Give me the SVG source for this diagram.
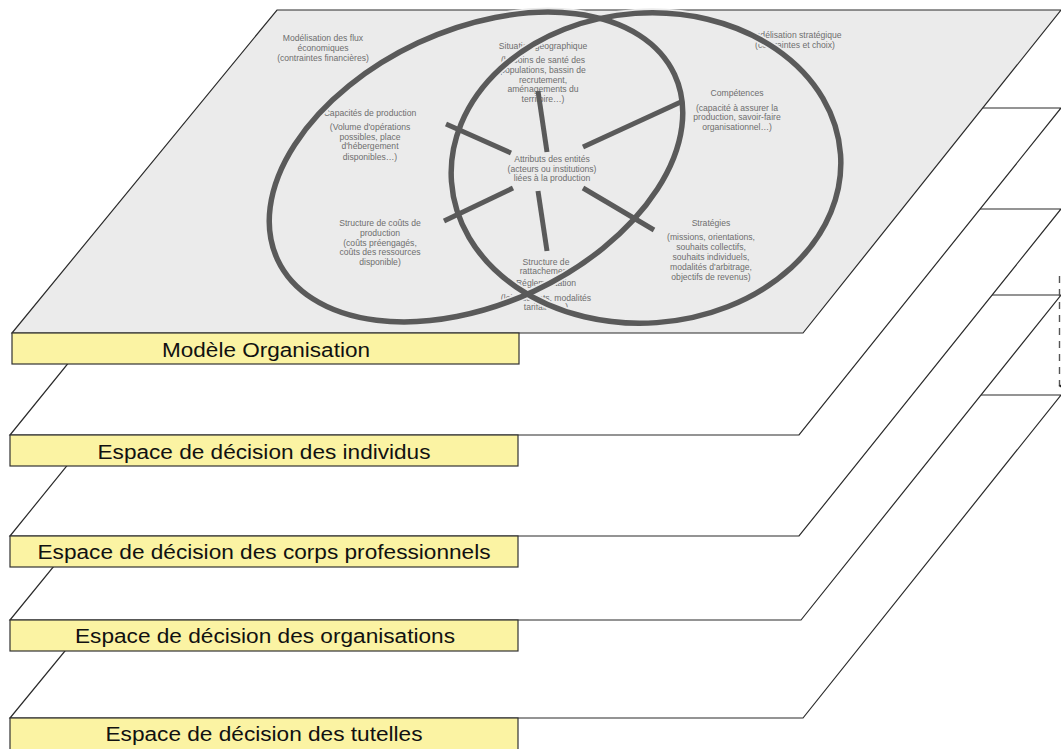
<svg xmlns="http://www.w3.org/2000/svg" width="1061" height="749" viewBox="0 0 1061 749">
<style>
.plane{stroke:#2b2b2b;stroke-width:1.2;stroke-linejoin:miter}
.top{fill:#ebebeb}
.low{fill:#ffffff}
.lbl{fill:#fbf3a3;stroke:#333;stroke-width:1.2}
.lt{font-family:"Liberation Sans",Arial,sans-serif;font-size:20px;fill:#111;text-anchor:middle}
.t{font-family:"Liberation Sans",Arial,sans-serif;font-size:8.6px;fill:#6e6e6e;text-anchor:middle}
.halo{fill:none;stroke:#ebebeb;stroke-width:9}
.ell{fill:none;stroke:#5a5a5a;stroke-width:5.5}
.spoke{stroke:#5a5a5a;stroke-width:5;fill:none}
.dash{stroke:#555;stroke-width:1.4;stroke-dasharray:7 6;fill:none}
</style>
<defs>
<marker id="ah" markerWidth="8" markerHeight="8" refX="4" refY="6" orient="auto" markerUnits="userSpaceOnUse" viewBox="0 0 8 8">
<path d="M0,0 L8,0 L4,7 Z" fill="#222"/>
</marker>
</defs>
<rect width="1061" height="749" fill="#ffffff"/>

<g id="plane-tutelles">
<polygon class="plane low" points="275,395 1061,395 803,718 10,718"/>
<rect class="lbl" x="10" y="718" width="508" height="40"/>
<text class="lt" x="264" y="741" textLength="317" lengthAdjust="spacingAndGlyphs">Espace de décision des tutelles</text>
</g>

<g id="plane-organisations">
<polygon class="plane low" points="275,295 1061,295 801,620 10,620"/>
<rect class="lbl" x="10" y="620" width="508" height="31"/>
<text class="lt" x="265" y="643" textLength="380" lengthAdjust="spacingAndGlyphs">Espace de décision des organisations</text>
</g>

<g id="plane-corps">
<polygon class="plane low" points="275,209 1061,209 799,536 10,536"/>
<rect class="lbl" x="10" y="536" width="508" height="31"/>
<text class="lt" x="264" y="559" textLength="453" lengthAdjust="spacingAndGlyphs">Espace de décision des corps professionnels</text>
</g>

<g id="plane-individus">
<polygon class="plane low" points="275,108 1061,108 799,435 10,435"/>
<rect class="lbl" x="10" y="435" width="508" height="31"/>
<text class="lt" x="264" y="459" textLength="333" lengthAdjust="spacingAndGlyphs">Espace de décision des individus</text>
</g>

<g id="plane-organisation-model">
<polygon class="plane top" points="277,10 1061,10 803,333 12,333"/>

<g id="n-flux">
<text class="t" x="323" y="41">Modélisation des flux</text>
<text class="t" x="323" y="51">économiques</text>
<text class="t" x="323" y="61">(contraintes financières)</text>
</g>
<g id="n-strat-model">
<text class="t" x="795" y="38">Modélisation stratégique</text>
<text class="t" x="795" y="48">(contraintes et choix)</text>
</g>
<g id="n-geo">
<text class="t" x="543" y="49">Situation géographique</text>
<text class="t" x="543" y="63">(besoins de santé des</text>
<text class="t" x="543" y="73">populations, bassin de</text>
<text class="t" x="543" y="83">recrutement,</text>
<text class="t" x="543" y="92">aménagements du</text>
<text class="t" x="543" y="102">territoire…)</text>
</g>
<g id="n-competences">
<text class="t" x="737" y="96">Compétences</text>
<text class="t" x="737" y="111">(capacité à assurer la</text>
<text class="t" x="737" y="120">production, savoir-faire</text>
<text class="t" x="737" y="130">organisationnel…)</text>
</g>
<g id="n-capacites">
<text class="t" x="370" y="116">Capacités de production</text>
<text class="t" x="370" y="130">(Volume d'opérations</text>
<text class="t" x="370" y="140">possibles, place</text>
<text class="t" x="370" y="149">d'hébergement</text>
<text class="t" x="370" y="160">disponibles…)</text>
</g>
<g id="n-attributs">
<text class="t" x="552" y="162">Attributs des entités</text>
<text class="t" x="552" y="172">(acteurs ou institutions)</text>
<text class="t" x="552" y="181">liées à la production</text>
</g>
<g id="n-couts">
<text class="t" x="380" y="226">Structure de coûts de</text>
<text class="t" x="380" y="236">production</text>
<text class="t" x="380" y="246">(coûts préengagés,</text>
<text class="t" x="380" y="255">coûts des ressources</text>
<text class="t" x="380" y="265">disponible)</text>
</g>
<g id="n-strategies">
<text class="t" x="711" y="226">Stratégies</text>
<text class="t" x="711" y="240">(missions, orientations,</text>
<text class="t" x="711" y="250">souhaits collectifs,</text>
<text class="t" x="711" y="260">souhaits individuels,</text>
<text class="t" x="711" y="270">modalités d'arbitrage,</text>
<text class="t" x="711" y="280">objectifs de revenus)</text>
</g>
<g id="n-rattachement">
<text class="t" x="546" y="265">Structure de</text>
<text class="t" x="546" y="274">rattachement,</text>
<text class="t" x="546" y="286">Réglementation</text>
<text class="t" x="546" y="301">(lois, décrets, modalités</text>
<text class="t" x="546" y="310">tarifaires…)</text>
</g>

<g id="ellipses">
<ellipse class="halo" cx="476" cy="167" rx="219" ry="137" transform="rotate(-25 476 167)"/>
<ellipse class="halo" cx="646" cy="168" rx="195" ry="155" transform="rotate(-4 646 168)"/>
<ellipse class="ell" cx="476" cy="167" rx="219" ry="137" transform="rotate(-25 476 167)"/>
<ellipse class="ell" cx="646" cy="168" rx="195" ry="155" transform="rotate(-4 646 168)"/>
</g>
<rect class="lbl" x="12" y="333" width="507" height="31"/>
<text class="lt" x="266" y="357" textLength="208" lengthAdjust="spacingAndGlyphs">Modèle Organisation</text>
</g>

<g id="connectors">
<line class="spoke" x1="511" y1="153" x2="446" y2="124"/>
<line class="spoke" x1="547" y1="152" x2="538" y2="91"/>
<line class="spoke" x1="583" y1="147" x2="683" y2="101"/>
<line class="spoke" x1="513" y1="188" x2="444" y2="221"/>
<line class="spoke" x1="538" y1="191" x2="547" y2="251"/>
<line class="spoke" x1="583" y1="188" x2="654" y2="230"/>
<line class="dash" x1="1059.5" y1="276" x2="1059.5" y2="386" marker-end="url(#ah)"/>
</g>
</svg>
